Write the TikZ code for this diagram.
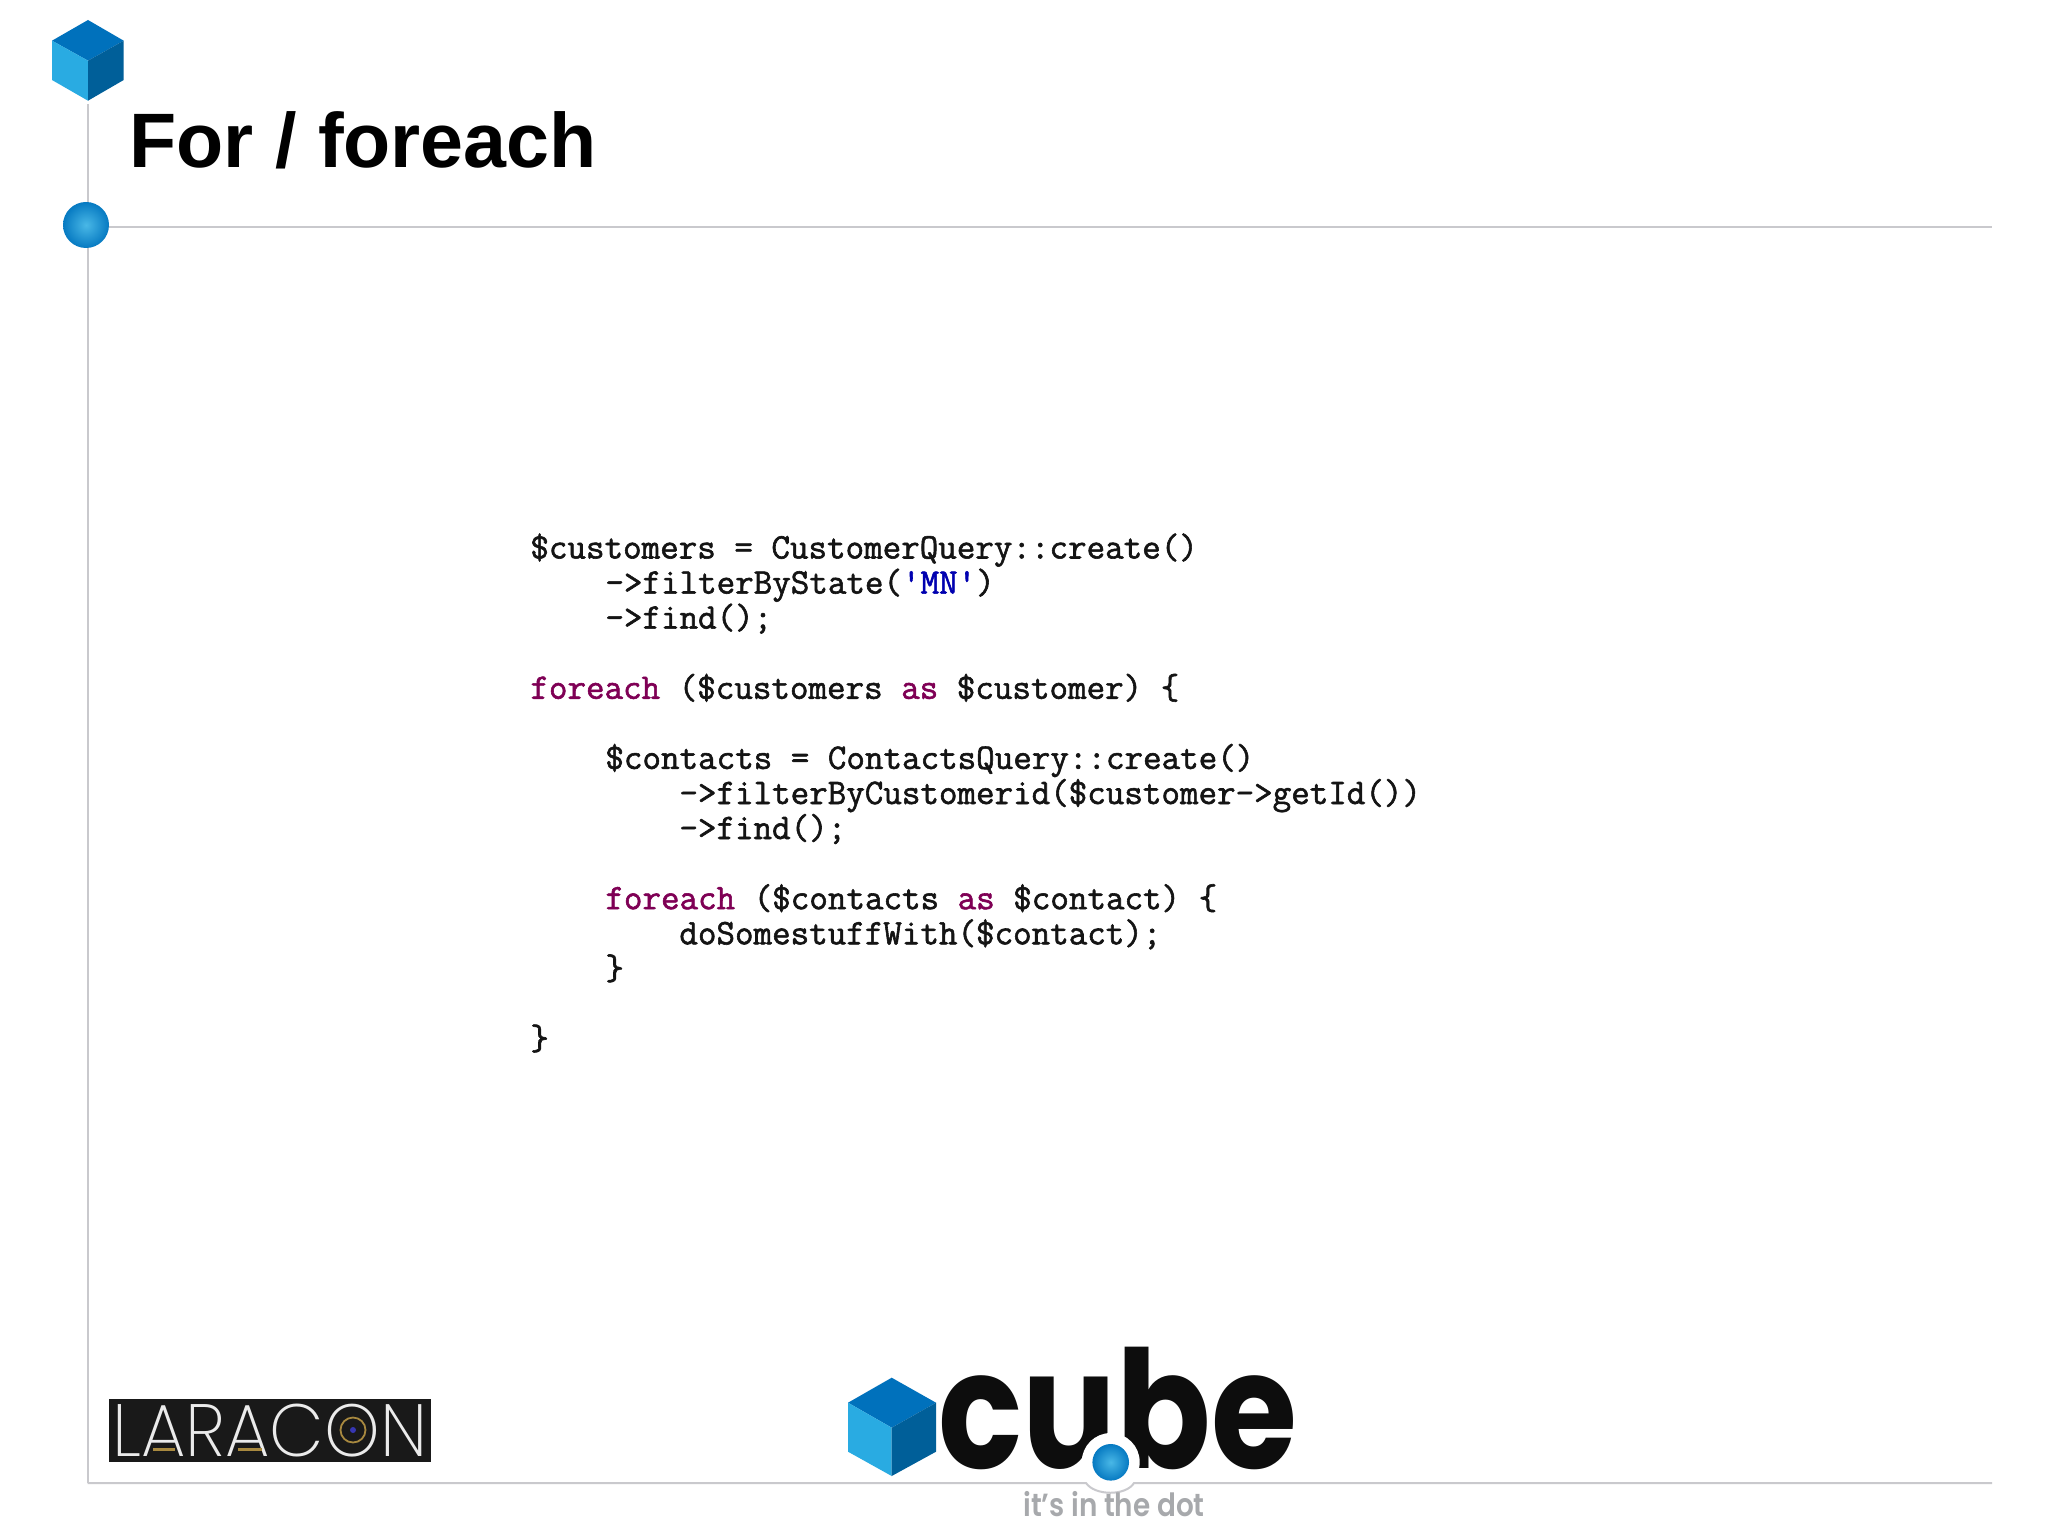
\documentclass[tikz,border=0pt]{standalone}
\usepackage{fontspec}
\setmainfont{Liberation Sans}
\setmonofont[FakeBold=1.6]{Latin Modern Mono}
\newfontfamily\fntlogo{Poppins}
\newfontfamily\fntthin{Poppins ExtraLight}
\newfontfamily\fntmed{Poppins SemiBold}
\usetikzlibrary{calc}
\definecolor{rulegrey}{HTML}{C9C9CD}
\definecolor{cubetop}{HTML}{0071BC}
\definecolor{cubeleft}{HTML}{29ABE2}
\definecolor{cuberight}{HTML}{005F99}
\definecolor{kw}{HTML}{7F0055}
\definecolor{str}{HTML}{0000B0}
\definecolor{code}{HTML}{141414}
\definecolor{tagline}{HTML}{A7A9AC}
\definecolor{gold}{HTML}{A8893F}
\tikzset{
  rulers/.style={draw=rulegrey,line width=1pt},
  codeline/.style={anchor=base west,inner sep=0pt,text=code,font=\ttfamily\fontsize{18}{20}\selectfont},
  dotball/.style={circle,inner sep=0pt,minimum size=#1,shading=radial,inner color=cubeleft!85!white,outer color=cubetop!85!cubeleft,draw=none},
}
\newcommand{\drawcube}[7]{%
  \fill[cubetop] #1 -- #2 -- #4 -- #3 -- cycle;
  \fill[cubeleft] #2 -- #4 -- #7 -- #5 -- cycle;
  \fill[cuberight] #3 -- #4 -- #7 -- #6 -- cycle;
}
\newcommand{\kw}[1]{\textcolor{kw}{#1}}
\begin{document}
\begin{tikzpicture}[x=0.5pt,y=-0.5pt]
\useasboundingbox (0,0) rectangle (2048,1535);
\fill[white] (0,0) rectangle (2048,1535);
% rules
\coordinate (vtop) at (87.5,104);
\coordinate (corner) at (87.5,1483);
\coordinate (hend) at (1992,227);
\coordinate (bend) at (1992,1483);
\draw[rulers] (vtop) -- (corner);
\node[dotball=23pt] (ball) at (86,225) {};
\draw[rulers] (ball.east |- hend) -- (hend);
% top cube
\drawcube{(88,20)}{(52,40.7)}{(123.7,40.7)}{(88,60.7)}{(52,80)}{(123.7,80)}{(88,100.7)}
% title
\node[anchor=base west,inner sep=0pt,font=\bfseries\fontsize{38.6}{48}\selectfont] (title) at (129,168) {For / foreach};
% code
\node[codeline] (l1) at (530,558.5) {\$customers = CustomerQuery::create()};
\node[codeline] (l2) at (605,593.6) {->filterByState(\textcolor{str}{'MN'})};
\node[codeline] (l3) at (605,628.6) {->find();};
\node[codeline] (l4) at (530,698.8) {\kw{foreach} (\$customers \kw{as} \$customer) \{};
\node[codeline] (l5) at (605,768.9) {\$contacts = ContactsQuery::create()};
\node[codeline] (l6) at (679,804) {->filterByCustomerid(\$customer->getId())};
\node[codeline] (l7) at (679,839) {->find();};
\node[codeline] (l8) at (605,909.2) {\kw{foreach} (\$contacts \kw{as} \$contact) \{};
\node[codeline] (l9) at (679,944.3) {doSomestuffWith(\$contact);};
\node[codeline] (l10) at (605,979.4) {\}};
\node[codeline] (l11) at (530,1049.5) {\}};
% laracon
\node[fill=black!90,minimum width=160.7pt,minimum height=31.7pt,inner sep=0pt] (lara) at (270,1430.3) {};
\node[inner sep=0pt,anchor=base,text=white!92!black,font=\fntthin\fontsize{37}{40}\selectfont,xscale=0.955] (laratext) at (270,1456) {LARACON};
\fill[gold] (153,1448) rectangle (175,1450.5);
\fill[gold] (238,1448) rectangle (262,1450.5);
\draw[gold,line width=0.9pt] (353,1430) circle (12.5);
\fill[blue!70!white!70!black] (353,1430) circle (3);
% bottom logo
\drawcube{(891.7,1377.7)}{(848,1402.7)}{(936,1402.7)}{(891.7,1427.7)}{(848,1451.7)}{(936,1451.7)}{(891.7,1476)}
\node[inner sep=0pt,anchor=base west,font=\fntlogo\bfseries\fontsize{82}{84}\selectfont,xscale=0.85,text=black!95] (cube) at (938,1468) {cube};
\fill[white] (1110.7,1462) circle (29);
\node[dotball=18.3pt] (logoball) at (1110.7,1462.3) {};
\draw[rulers] (corner) -- (1086,1483) .. controls (1095,1496) and (1126,1496) .. (1134,1483) -- (bend);
\node[inner sep=0pt,anchor=base west,text=tagline,font=\fntmed\fontsize{16}{18}\selectfont,xscale=0.87] (tag) at (1023,1516.7) {it’s in the dot};
\end{tikzpicture}
\end{document}
